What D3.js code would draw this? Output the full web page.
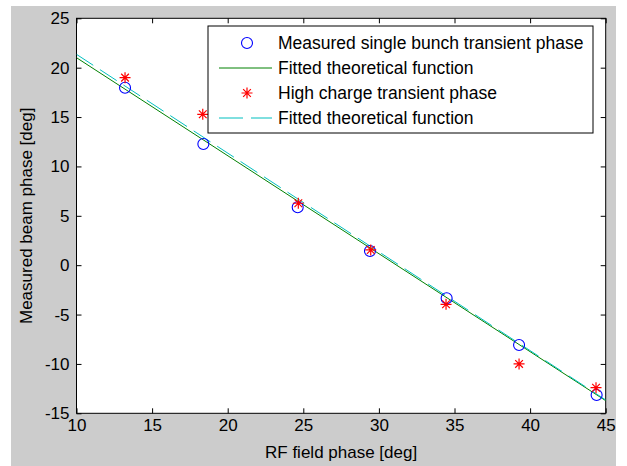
<!DOCTYPE html>
<html><head><meta charset="utf-8">
<script src="https://cdn.jsdelivr.net/npm/d3@7"></script>
<style>
html,body{margin:0;padding:0;background:#fff;}
svg{display:block;}
text{font-family:Arial,"Liberation Sans",sans-serif;fill:#000;}
</style></head>
<body>
<svg id="c" width="627" height="466"></svg>
<script>
// Data
const singleX = [13.21, 18.39, 24.63, 29.41, 34.48, 39.27, 44.40];
const singleY = [17.97, 12.27, 5.86, 1.43, -3.35, -8.08, -13.15];
const highX = [13.21, 18.35, 24.67, 29.46, 34.44, 39.27, 44.36];
const highY = [18.99, 15.28, 6.27, 1.54, -3.96, -10.0, -12.41];
const fitX = [10, 45];
const fitSingleY = [21.01, -13.72];
const fitHighY = [21.35, -13.65];
const xTicks = [10, 15, 20, 25, 30, 35, 40, 45];
const yTicks = [-15, -10, -5, 0, 5, 10, 15, 20, 25];
const legendLabels = ["Measured single bunch transient phase", "Fitted theoretical function",
  "High charge transient phase", "Fitted theoretical function"];

const svg = d3.select("#c");
const L = 76.5, R = 605.7, T = 18.3, B = 413.3;
const x = d3.scaleLinear().domain([10, 45]).range([L, R]);
const y = d3.scaleLinear().domain([-15, 25]).range([B, T]);

svg.append("rect").attr("x", 11).attr("y", 6).attr("width", 605).attr("height", 460).attr("fill", "#cccccc");
svg.append("rect").attr("x", L).attr("y", T).attr("width", R - L).attr("height", B - T).attr("fill", "#fff");

svg.append("clipPath").attr("id", "clip").append("rect")
  .attr("x", L).attr("y", T).attr("width", R - L).attr("height", B - T);

const fs = 17;
const fmt = d => String(d);
// axes
const tl = 5;
const gx = svg.append("g").attr("transform", `translate(0,${B})`)
  .call(d3.axisBottom(x).tickValues(xTicks).tickSize(-tl).tickPadding(8).tickFormat(fmt));
const gxt = svg.append("g").attr("transform", `translate(0,${T})`)
  .call(d3.axisTop(x).tickValues(xTicks).tickSize(-tl).tickFormat(""));
const gy = svg.append("g").attr("transform", `translate(${L},0)`)
  .call(d3.axisLeft(y).tickValues(yTicks).tickSize(-tl).tickPadding(7).tickFormat(fmt));
const gyr = svg.append("g").attr("transform", `translate(${R},0)`)
  .call(d3.axisRight(y).tickValues(yTicks).tickSize(-tl).tickFormat(""));
[gx, gxt, gy, gyr].forEach(g => {
  g.select(".domain").remove();
  g.selectAll("line").attr("stroke", "#000");
  g.selectAll("text").attr("font-size", fs).attr("font-family", "Arial, 'Liberation Sans', sans-serif").attr("fill", "#000");
});
gx.selectAll("text").attr("dy", "0.55em");
svg.append("rect").attr("x", L).attr("y", T).attr("width", R - L).attr("height", B - T)
  .attr("fill", "none").attr("stroke", "#000").attr("stroke-width", 1);

// axis labels
svg.append("text").attr("x", (L + R) / 2).attr("y", 458).attr("text-anchor", "middle")
  .attr("font-size", fs).text("RF field phase [deg]");
svg.append("text").attr("transform", `translate(32,${(T + B) / 2}) rotate(-90)`)
  .attr("text-anchor", "middle").attr("font-size", fs).text("Measured beam phase [deg]");

const plot = svg.append("g").attr("clip-path", "url(#clip)");
const line = d3.line().x(d => x(d[0])).y(d => y(d[1]));
plot.append("path").datum(d3.zip(fitX, fitSingleY)).attr("d", line)
  .attr("fill", "none").attr("stroke", "#008000").attr("stroke-width", 1);
plot.append("path").datum(d3.zip(fitX, fitHighY)).attr("d", line)
  .attr("fill", "none").attr("stroke", "#00bfbf").attr("stroke-width", 1).attr("stroke-dasharray", "20,8");

function star(g, cx, cy, s) {
  const p = `M${cx - s},${cy}H${cx + s}M${cx},${cy - s}V${cy + s}` +
    `M${cx - s * 0.7},${cy - s * 0.7}L${cx + s * 0.7},${cy + s * 0.7}M${cx - s * 0.7},${cy + s * 0.7}L${cx + s * 0.7},${cy - s * 0.7}`;
  g.append("path").attr("d", p).attr("stroke", "#ff0000").attr("stroke-width", 1.2).attr("fill", "none");
}
d3.zip(singleX, singleY).forEach(d => {
  plot.append("circle").attr("cx", x(d[0])).attr("cy", y(d[1])).attr("r", 5.5)
    .attr("fill", "none").attr("stroke", "#0000ff").attr("stroke-width", 1.1);
});
d3.zip(highX, highY).forEach(d => star(plot, x(d[0]), y(d[1]), 5.5));

// legend
const lg = svg.append("g");
lg.append("rect").attr("x", 208).attr("y", 26).attr("width", 385).attr("height", 107)
  .attr("fill", "#fff").attr("stroke", "#000").attr("stroke-width", 1);
const rowsY = [43, 68, 93, 118];
legendLabels.forEach((t, i) => {
  lg.append("text").attr("x", 278).attr("y", rowsY[i]).attr("dy", "0.36em")
    .attr("font-size", 17.5).text(t);
});
lg.append("circle").attr("cx", 247).attr("cy", rowsY[0]).attr("r", 5.5)
  .attr("fill", "none").attr("stroke", "#0000ff").attr("stroke-width", 1.1);
lg.append("line").attr("x1", 219).attr("x2", 272).attr("y1", rowsY[1]).attr("y2", rowsY[1])
  .attr("stroke", "#008000");
star(lg, 247, rowsY[2], 5.5);
lg.append("line").attr("x1", 219).attr("x2", 272).attr("y1", rowsY[3]).attr("y2", rowsY[3])
  .attr("stroke", "#00bfbf").attr("stroke-dasharray", "24,8");
</script>
</body></html>
